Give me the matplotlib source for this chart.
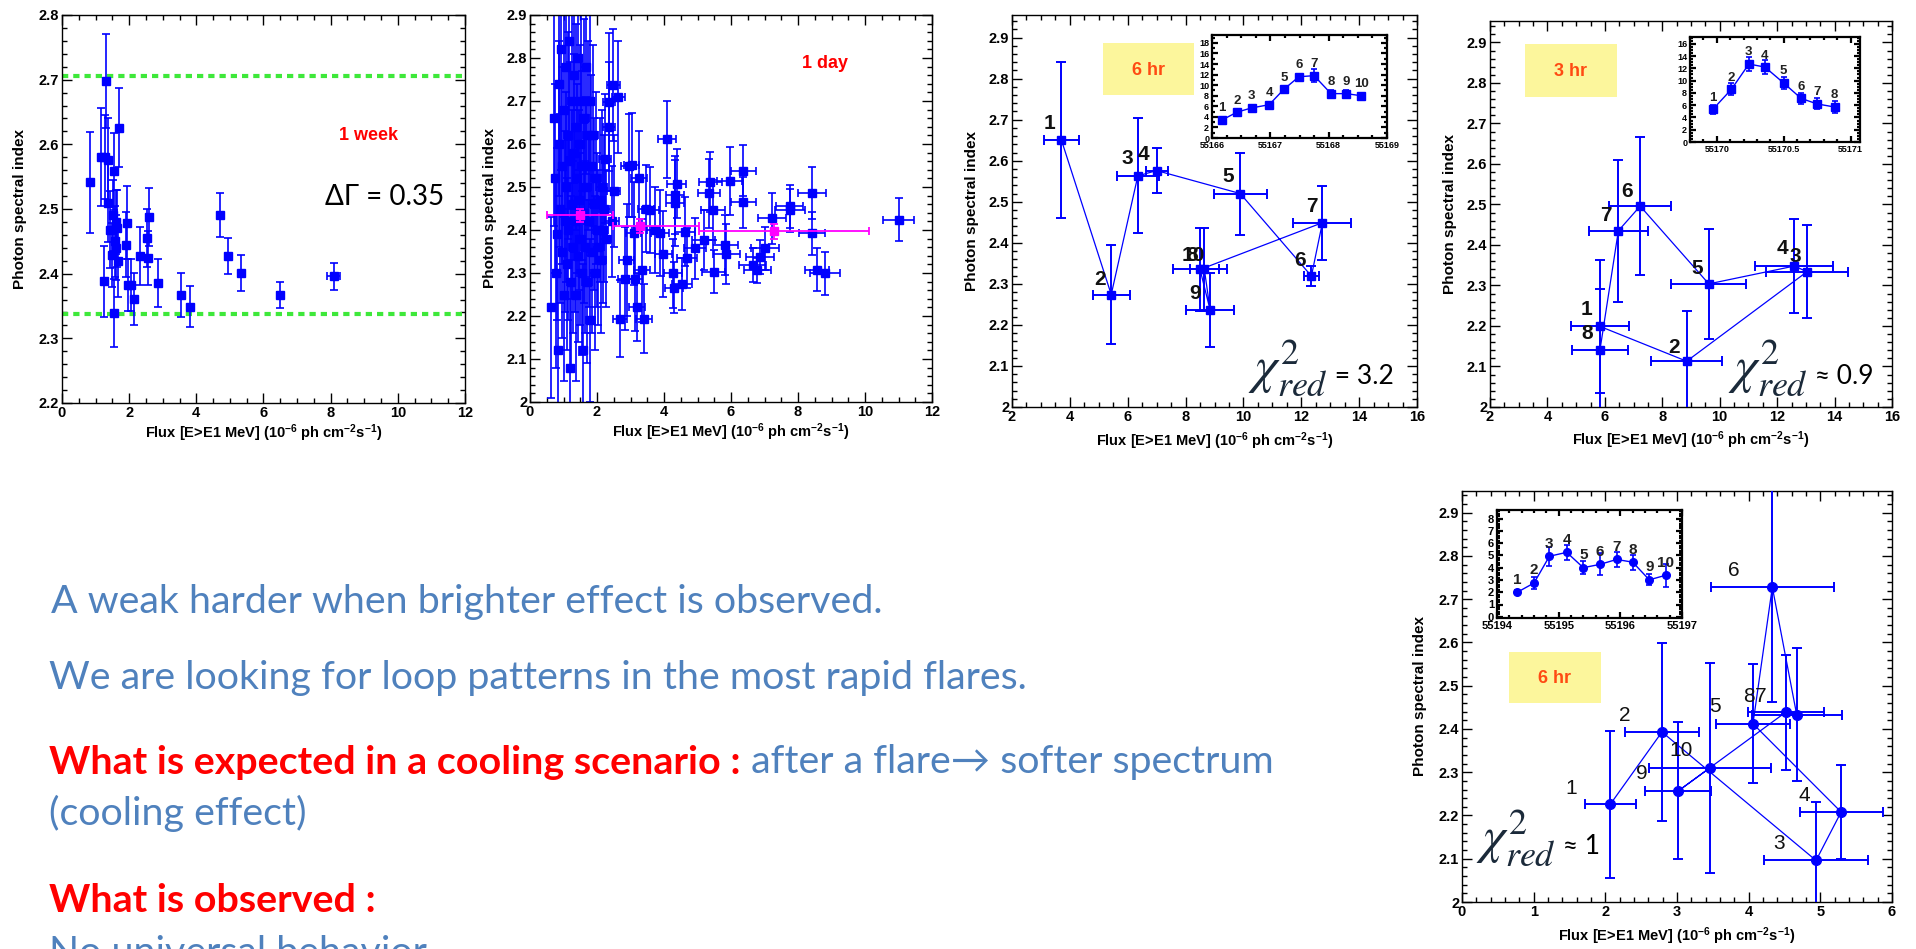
import numpy as np
import matplotlib
matplotlib.use('Agg')
import matplotlib.pyplot as plt
from matplotlib.ticker import MultipleLocator, FuncFormatter
from matplotlib.patches import Rectangle

plt.rcParams['font.family'] = ['Liberation Sans', 'DejaVu Sans']
plt.rcParams['mathtext.fontset'] = 'custom'
plt.rcParams['mathtext.rm'] = 'Liberation Sans:bold'
plt.rcParams['mathtext.bf'] = 'Liberation Sans:bold'
plt.rcParams['mathtext.it'] = 'Liberation Sans:italic:bold'
plt.rcParams['mathtext.default'] = 'rm'

BLUE = '#0000ff'
PINK = '#ff00ff'
GREEN = '#3ee83a'
RED = '#ff0000'
TXT_BLUE = '#4f81bd'

# ---------------- 1 week binning ----------------
week_flux = [0.84, 1.16, 1.26, 1.32, 1.28, 1.36, 1.36, 1.44, 1.49, 1.54,
             1.56, 1.52, 1.58, 1.60, 1.62, 1.67, 1.70, 1.65, 1.90, 1.93,
             1.98, 2.05, 2.13, 2.33, 2.53, 2.56, 2.59, 2.85, 3.53, 3.80,
             4.71, 4.93, 5.33, 6.48, 8.09]
week_index = [2.541, 2.580, 2.388, 2.698, 2.580, 2.576, 2.509, 2.468, 2.429, 2.339,
              2.558, 2.490, 2.450, 2.480, 2.440, 2.419, 2.626, 2.470, 2.445, 2.479,
              2.383, 2.383, 2.361, 2.427, 2.455, 2.424, 2.488, 2.385, 2.367, 2.349,
              2.491, 2.427, 2.401, 2.367, 2.396]
week_flux_err = [0.05, 0.05, 0.05, 0.05, 0.05, 0.05, 0.05, 0.05, 0.05, 0.05,
                 0.05, 0.05, 0.05, 0.05, 0.05, 0.05, 0.05, 0.05, 0.05, 0.05,
                 0.05, 0.05, 0.05, 0.06, 0.06, 0.06, 0.06, 0.06, 0.06, 0.06,
                 0.07, 0.07, 0.07, 0.07, 0.20]
week_index_err = [0.078, 0.076, 0.055, 0.072, 0.065, 0.065, 0.060, 0.060, 0.050, 0.053,
                  0.060, 0.055, 0.055, 0.050, 0.050, 0.055, 0.061, 0.060, 0.050, 0.057,
                  0.040, 0.040, 0.040, 0.045, 0.045, 0.042, 0.045, 0.037, 0.034, 0.032,
                  0.034, 0.028, 0.028, 0.020, 0.021]
week_band = [2.338, 2.706]

# ---------------- 1 day binning ----------------
day_flux_low = [0.62, 0.72, 0.75, 0.78, 0.82, 0.85, 0.86, 0.88, 0.90, 0.92,
                0.95, 0.97, 1.00, 1.02, 1.04, 1.06, 1.08, 1.10, 1.12, 1.14,
                1.16, 1.18, 1.20, 1.22, 1.24, 1.26, 1.28, 1.30, 1.32, 1.34,
                1.36, 1.38, 1.40, 1.42, 1.44, 1.46, 1.48, 1.50, 1.52, 1.54,
                1.56, 1.58, 1.60, 1.62, 1.64, 1.66, 1.68, 1.70, 1.72, 1.75,
                1.78, 1.80, 1.82, 1.85, 1.88, 1.90, 1.94, 1.97, 2.00, 2.04,
                2.08, 2.12, 2.14, 2.18, 2.22, 2.26]
day_index_low = [2.22, 2.66, 2.52, 2.30, 2.39, 2.12, 2.74, 2.60, 2.45, 2.82,
                 2.35, 2.55, 2.68, 2.25, 2.42, 2.78, 2.50, 2.32, 2.62, 2.40,
                 2.84, 2.56, 2.08, 2.28, 2.70, 2.46, 2.36, 2.58, 2.76, 2.42,
                 2.25, 2.64, 2.52, 2.34, 2.80, 2.47, 2.60, 2.38, 2.70, 2.30,
                 2.55, 2.12, 2.44, 2.66, 2.36, 2.78, 2.50, 2.28, 2.62, 2.42,
                 2.70, 2.19, 2.55, 2.35, 2.62, 2.46, 2.30, 2.52, 2.40, 2.36,
                 2.47, 2.33, 2.50, 2.40, 2.45, 2.38]
day_flux_err_low = [0.05, 0.06, 0.06, 0.07, 0.07, 0.07, 0.08, 0.08, 0.08, 0.08,
                    0.08, 0.09, 0.09, 0.09, 0.09, 0.10, 0.10, 0.10, 0.10, 0.10,
                    0.10, 0.10, 0.10, 0.11, 0.11, 0.11, 0.11, 0.11, 0.11, 0.12,
                    0.12, 0.12, 0.12, 0.12, 0.12, 0.12, 0.12, 0.13, 0.13, 0.13,
                    0.13, 0.13, 0.13, 0.13, 0.13, 0.14, 0.14, 0.14, 0.14, 0.14,
                    0.14, 0.14, 0.14, 0.15, 0.15, 0.15, 0.15, 0.15, 0.15, 0.16,
                    0.16, 0.16, 0.16, 0.16, 0.17, 0.17]
day_index_err_low = [0.21, 0.25, 0.22, 0.22, 0.20, 0.18, 0.26, 0.24, 0.22, 0.28,
                     0.20, 0.23, 0.25, 0.20, 0.21, 0.27, 0.22, 0.20, 0.24, 0.21,
                     0.27, 0.23, 0.20, 0.20, 0.25, 0.22, 0.20, 0.23, 0.25, 0.21,
                     0.20, 0.24, 0.22, 0.20, 0.26, 0.21, 0.23, 0.20, 0.24, 0.19,
                     0.22, 0.20, 0.21, 0.23, 0.20, 0.25, 0.21, 0.19, 0.22, 0.20,
                     0.23, 0.19, 0.21, 0.19, 0.21, 0.20, 0.18, 0.20, 0.18, 0.18,
                     0.19, 0.17, 0.18, 0.17, 0.17, 0.16]

day_flux_high = [2.24, 2.37, 2.37, 2.49, 2.64, 2.50, 2.45, 2.69, 2.84, 2.89,
                 2.95, 3.04, 3.09, 3.14, 3.19, 3.25, 3.34, 3.39, 3.45, 3.59,
                 3.73, 3.88, 3.98, 4.08, 4.28, 4.30, 4.33, 4.33, 4.38, 4.53,
                 4.63, 4.68, 4.93, 5.18, 5.33, 5.38, 5.46, 5.48, 5.83, 5.86,
                 5.96, 6.37, 6.37, 6.65, 6.79, 6.87, 7.02, 7.22, 7.75, 7.75,
                 8.42, 8.42, 8.57, 8.81, 11.0]
day_index_high = [2.566, 2.698, 2.640, 2.737, 2.710, 2.490, 2.420, 2.194, 2.287, 2.330,
                  2.550, 2.551, 2.392, 2.285, 2.221, 2.520, 2.306, 2.194, 2.450, 2.446,
                  2.400, 2.392, 2.345, 2.611, 2.299, 2.266, 2.462, 2.481, 2.508, 2.275,
                  2.396, 2.334, 2.357, 2.376, 2.485, 2.512, 2.446, 2.303, 2.365, 2.345,
                  2.514, 2.464, 2.538, 2.318, 2.306, 2.337, 2.357, 2.427, 2.446, 2.455,
                  2.486, 2.393, 2.308, 2.300, 2.424]
day_flux_err_high = [0.17, 0.18, 0.18, 0.20, 0.20, 0.20, 0.20, 0.20, 0.22, 0.22,
                     0.22, 0.22, 0.22, 0.23, 0.23, 0.23, 0.24, 0.24, 0.24, 0.25,
                     0.25, 0.26, 0.26, 0.27, 0.27, 0.27, 0.28, 0.28, 0.28, 0.30,
                     0.30, 0.30, 0.32, 0.33, 0.33, 0.35, 0.35, 0.35, 0.38, 0.40,
                     0.38, 0.38, 0.38, 0.40, 0.40, 0.42, 0.42, 0.42, 0.45, 0.40,
                     0.43, 0.40, 0.35, 0.45, 0.47]
day_index_err_high = [0.15, 0.16, 0.15, 0.13, 0.13, 0.13, 0.13, 0.09, 0.12, 0.13,
                      0.12, 0.12, 0.12, 0.12, 0.08, 0.11, 0.12, 0.08, 0.10, 0.10,
                      0.10, 0.10, 0.10, 0.09, 0.08, 0.06, 0.10, 0.09, 0.08, 0.06,
                      0.08, 0.07, 0.07, 0.07, 0.08, 0.07, 0.07, 0.05, 0.07, 0.07,
                      0.08, 0.06, 0.06, 0.04, 0.03, 0.04, 0.05, 0.06, 0.05, 0.05,
                      0.06, 0.05, 0.05, 0.05, 0.05]

# flux-binned averages of the daily points
avg_flux = [1.49, 3.29, 7.27]
avg_index = [2.434, 2.410, 2.397]
avg_flux_lo = [0.99, 0.80, 2.24]
avg_flux_hi = [1.00, 1.74, 2.84]
avg_index_err = [0.016, 0.016, 0.018]

# ---------------- flare A, 6 hr bins ----------------
fa_flux = [3.71, 5.43, 6.35, 7.00, 9.89, 12.35, 12.73, 8.50, 8.85, 8.65]
fa_index = [2.650, 2.274, 2.563, 2.576, 2.520, 2.319, 2.449, 2.335, 2.236, 2.335]
fa_flux_err = [0.60, 0.64, 0.73, 0.38, 0.91, 0.27, 1.00, 0.92, 0.84, 0.50]
fa_index_err = [0.19, 0.12, 0.14, 0.055, 0.10, 0.025, 0.09, 0.10, 0.09, 0.10]
fa_mjd = [55166.17, 55166.43, 55166.68, 55166.98, 55167.23, 55167.49, 55167.75,
          55168.04, 55168.30, 55168.56]
fa_lc = [3.4, 4.9, 5.7, 6.3, 9.2, 11.6, 11.8, 8.4, 8.4, 8.0]
fa_lc_err = [0.5, 0.5, 0.5, 0.5, 0.6, 0.6, 1.2, 0.6, 0.6, 0.6]

# ---------------- flare B, 3 hr bins ----------------
fb_flux = [5.83, 8.85, 13.04, 12.60, 9.62, 7.23, 6.47, 5.83]
fb_index = [2.199, 2.113, 2.334, 2.348, 2.304, 2.496, 2.435, 2.141]
fb_flux_err = [1.00, 1.23, 1.42, 1.36, 1.30, 1.07, 1.02, 0.96]
fb_index_err = [0.165, 0.125, 0.115, 0.115, 0.135, 0.170, 0.175, 0.150]
fb_mjd = [55169.97, 55170.11, 55170.24, 55170.36, 55170.50, 55170.63, 55170.75, 55170.88]
fb_lc = [5.3, 8.6, 12.7, 12.2, 9.6, 7.1, 6.2, 5.7]
fb_lc_err = [0.8, 1.0, 1.2, 1.2, 1.0, 0.9, 0.9, 0.9]

# ---------------- flare C, 6 hr bins ----------------
fc_flux = [2.07, 2.79, 4.94, 5.29, 4.06, 4.33, 4.67, 4.52, 3.02, 3.46]
fc_index = [2.226, 2.393, 2.096, 2.208, 2.412, 2.728, 2.433, 2.439, 2.257, 2.310]
fc_flux_err = [0.36, 0.52, 0.73, 0.58, 0.51, 0.86, 0.63, 0.53, 0.46, 0.85]
fc_index_err = [0.17, 0.205, 0.135, 0.108, 0.137, 0.265, 0.153, 0.133, 0.158, 0.243]
fc_mjd = [55194.33, 55194.60, 55194.85, 55195.13, 55195.40, 55195.67, 55195.94,
          55196.20, 55196.47, 55196.74]
fc_lc = [2.0, 2.75, 4.93, 5.25, 4.0, 4.27, 4.67, 4.45, 3.01, 3.39]
fc_lc_err = [0.15, 0.5, 0.77, 0.6, 0.53, 0.9, 0.63, 0.6, 0.44, 0.93]

# where the bin numbers are written next to each loop point
fa_tag_xy = [(3.30, 2.690), (5.03, 2.310), (5.97, 2.606), (6.55, 2.616), (9.47, 2.561),
             (11.97, 2.358), (12.35, 2.488), (8.22, 2.370), (8.34, 2.276), (8.28, 2.370)]
fb_tag_xy = [(5.37, 2.240), (8.41, 2.148), (12.63, 2.371), (12.17, 2.392), (9.23, 2.343),
             (6.76, 2.532), (6.02, 2.474), (5.37, 2.182)]
fc_tag_xy = [(1.53, 2.262), (2.27, 2.431), (4.43, 2.135), (4.78, 2.247), (3.53, 2.451),
             (3.79, 2.767), (4.17, 2.474), (4.01, 2.474), (2.51, 2.297), (3.05, 2.351)]

FLUX_LABEL = r'Flux [E>E1 MeV] (10$^{-6}$ ph cm$^{-2}$s$^{-1}$)'
W, H = 1916, 949


def px_axes(fig, left, top, right, bottom):
    return fig.add_axes([left / W, 1 - bottom / H, (right - left) / W, (bottom - top) / H])


def root_style(ax, xmaj, xmin, ymaj, ymin, size=10.5, major=7, minor=3.5, lw=1.0):
    ax.xaxis.set_major_locator(MultipleLocator(xmaj))
    ax.xaxis.set_minor_locator(MultipleLocator(xmin))
    ax.yaxis.set_major_locator(MultipleLocator(ymaj))
    ax.yaxis.set_minor_locator(MultipleLocator(ymin))
    fmt = FuncFormatter(lambda v, p: f'{v:g}')
    ax.xaxis.set_major_formatter(fmt)
    ax.yaxis.set_major_formatter(fmt)
    ax.tick_params(which='both', direction='in', top=True, right=True, width=lw)
    ax.tick_params(which='major', length=major, labelsize=size, pad=2)
    ax.tick_params(which='minor', length=minor)
    for lab in ax.get_xticklabels() + ax.get_yticklabels():
        lab.set_fontweight('bold')
    for s in ax.spines.values():
        s.set_linewidth(lw)


def axis_titles(ax, ylab_x, xlab_y):
    ax.set_ylabel('Photon spectral index', fontsize=11, fontweight='bold')
    ax.yaxis.set_label_coords(ylab_x, 0.5)
    ax.set_xlabel(FLUX_LABEL, fontsize=10.5, fontweight='bold')
    ax.xaxis.set_label_coords(0.5, xlab_y)


def light_curve(ax, t, f, ferr, marker, xlim, ylim, xmaj, xmin, ymaj, ymin,
                tag_size, tick_size):
    ax.errorbar(t, f, yerr=ferr, fmt=marker + '-', color=BLUE, ms=5.5, lw=1.0,
                elinewidth=1.2, capsize=2.5, capthick=1.2)
    for i, (ti, fi) in enumerate(zip(t, f)):
        ax.annotate(str(i + 1), (ti, fi), xytext=(0, 4), textcoords='offset points',
                    ha='center', va='bottom', fontsize=tag_size, fontweight='bold',
                    color='#222222')
    ax.set_xlim(*xlim)
    ax.set_ylim(*ylim)
    root_style(ax, xmaj, xmin, ymaj, ymin, size=tick_size, major=4, minor=2, lw=1.6)


def loop_panel(ax, flux, index, ferr, ierr, tags, marker, ms, tag_weight):
    ax.plot(flux, index, '-', color=BLUE, lw=0.9, zorder=2)
    ax.errorbar(flux, index, xerr=ferr, yerr=ierr, fmt=marker, color=BLUE, ms=ms,
                elinewidth=1.4, capsize=3.5, capthick=1.4, zorder=3)
    for i, (tx, ty) in enumerate(tags):
        ax.text(tx, ty, str(i + 1), ha='center', va='center', fontsize=15,
                fontweight=tag_weight, color='#111111')


def chi_label(ov, x, y, value):
    chi = ov.text(x, y, r'$\mathit{\chi}^{2}_{\mathit{red}}$', math_fontfamily='stix',
                  fontsize=37, color='#1b2a3a', ha='left', va='center')
    ov.annotate(value, xy=(1.0, 0.36), xycoords=chi, ha='left', va='center',
                fontsize=19, family=['Lato', 'DejaVu Sans'], color='black')


def main():
    fig = plt.figure(figsize=(W / 100, H / 100), dpi=100)

    # 1 week
    ax1 = px_axes(fig, 62, 15, 465, 403)
    ax1.axhline(week_band[0], color=GREEN, lw=3, dashes=(1.5, 1.2))
    ax1.axhline(week_band[1], color=GREEN, lw=3, dashes=(1.5, 1.2))
    ax1.errorbar(week_flux, week_index, xerr=week_flux_err, yerr=week_index_err, fmt='s',
                 color=BLUE, ms=6, elinewidth=1.2, capsize=3, capthick=1.2)
    ax1.set_xlim(0, 12)
    ax1.set_ylim(2.2, 2.8)
    root_style(ax1, 2, 0.5, 0.1, 0.02)
    axis_titles(ax1, -0.087, -0.049)
    ax1.text(0.76, 0.69, '1 week', transform=ax1.transAxes, color=RED, fontsize=13,
             fontweight='bold', ha='center', va='center')
    ax1.text(0.80, 0.53, '\u0394\u0393 = 0.35', transform=ax1.transAxes, color='black',
             fontsize=20, family=['Lato', 'DejaVu Sans'], ha='center', va='center')

    # 1 day
    ax2 = px_axes(fig, 530, 15, 932, 402)
    ax2.errorbar(day_flux_low, day_index_low, xerr=day_flux_err_low, yerr=day_index_err_low,
                 fmt='s', color=BLUE, ms=6, elinewidth=1.2, capsize=3, capthick=1.2)
    ax2.errorbar(day_flux_high, day_index_high, xerr=day_flux_err_high, yerr=day_index_err_high,
                 fmt='s', color=BLUE, ms=6, elinewidth=1.2, capsize=3, capthick=1.2)
    ax2.errorbar(avg_flux, avg_index, xerr=[avg_flux_lo, avg_flux_hi], yerr=avg_index_err,
                 fmt='s', color=PINK, ms=6, elinewidth=1.3, capsize=3, capthick=1.3, zorder=5)
    ax2.set_xlim(0, 12)
    ax2.set_ylim(2.0, 2.9)
    root_style(ax2, 2, 0.5, 0.1, 0.02)
    axis_titles(ax2, -0.082, -0.049)
    ax2.text(0.735, 0.875, '1 day', transform=ax2.transAxes, color=RED, fontsize=13,
             fontweight='bold', ha='center', va='center')

    # flare A
    ax3 = px_axes(fig, 1012, 15, 1417, 407)
    loop_panel(ax3, fa_flux, fa_index, fa_flux_err, fa_index_err, fa_tag_xy, 's', 6, 'bold')
    ax3.set_xlim(2, 16)
    ax3.set_ylim(2.0, 2.955)
    root_style(ax3, 2, 0.5, 0.1, 0.02)
    axis_titles(ax3, -0.082, -0.059)

    # flare B
    ax4 = px_axes(fig, 1490, 21, 1892, 407)
    loop_panel(ax4, fb_flux, fb_index, fb_flux_err, fb_index_err, fb_tag_xy, 's', 6, 'bold')
    ax4.set_xlim(2, 16)
    ax4.set_ylim(2.0, 2.953)
    root_style(ax4, 2, 0.5, 0.1, 0.02)
    axis_titles(ax4, -0.082, -0.059)

    # flare C
    ax5 = px_axes(fig, 1462, 491, 1892, 902)
    loop_panel(ax5, fc_flux, fc_index, fc_flux_err, fc_index_err, fc_tag_xy, 'o', 7, 'normal')
    ax5.set_xlim(0, 6)
    ax5.set_ylim(2.0, 2.95)
    root_style(ax5, 1, 0.2, 0.1, 0.02)
    axis_titles(ax5, -0.081, -0.058)

    # light curves of the three flares
    in3 = px_axes(fig, 1212, 35, 1387, 138)
    light_curve(in3, fa_mjd, fa_lc, fa_lc_err, 's', (55166, 55169), (0, 19.5),
                1, 0.25, 2, 1, 9.5, 6.5)
    in4 = px_axes(fig, 1690, 37, 1860, 142)
    light_curve(in4, fb_mjd, fb_lc, fb_lc_err, 's', (55169.8, 55171.07), (0, 17.1),
                0.5, 0.1, 2, 0.5, 9.5, 6.5)
    in5 = px_axes(fig, 1497, 510, 1682, 618)
    light_curve(in5, fc_mjd, fc_lc, fc_lc_err, 'o', (55194, 55197), (-0.1, 8.7),
                1, 0.2, 1, 0.2, 11, 8)

    # overlay in pixel units for slide text and boxes
    ov = fig.add_axes([0, 0, 1, 1], facecolor='none')
    ov.set_xlim(0, W)
    ov.set_ylim(H, 0)
    ov.axis('off')

    for (x0, y0, x1, y1, label) in [(1103, 43, 1194, 95, '6 hr'),
                                    (1525, 44, 1617, 97, '3 hr'),
                                    (1509, 652, 1601, 703, '6 hr')]:
        ov.add_patch(Rectangle((x0, y0), x1 - x0, y1 - y0, facecolor='#fcf69c',
                               edgecolor='none', zorder=1))
        ov.text((x0 + x1) / 2, (y0 + y1) / 2 + 1, label, color='#ff4a12', fontsize=13,
                fontweight='bold', ha='center', va='center', zorder=2)

    chi_label(ov, 1248, 368, ' = 3.2')
    chi_label(ov, 1728, 368, ' \u2248 0.9')
    chi_label(ov, 1476, 838, ' \u2248 1')

    body = ['Lato', 'DejaVu Sans']
    t1 = ov.text(51, 613, 'A weak harder when brighter effect is observed.', color=TXT_BLUE,
                 family=body, fontsize=24, va='baseline')
    t2 = ov.text(49, 689, 'We are looking for loop patterns in the most rapid flares.',
                 color=TXT_BLUE, family=body, fontsize=24, va='baseline')
    t3 = ov.text(49, 774, 'What is expected in a cooling scenario :', color=RED,
                 family=body, fontsize=24, fontweight='bold', va='baseline')
    t4 = ov.text(49, 825, '(cooling effect)', color=TXT_BLUE, family=body, fontsize=24,
                 va='baseline')
    t5 = ov.text(49, 912, 'What is observed :', color=RED, family=body, fontsize=24,
                 fontweight='bold', va='baseline')
    t6 = ov.text(49, 964, 'No universal behavior', color=TXT_BLUE, family=body, fontsize=24,
                 va='baseline', clip_on=False)
    lines = [t1, t2, t3, t4, t5, t6]

    # size the body text so the second line spans its slot on the slide
    renderer = fig.canvas.get_renderer()
    width = t2.get_window_extent(renderer).width
    size = 24 * (1029 - 49) / width
    for t in lines:
        t.set_fontsize(size)
    ov.annotate(' after a flare\u2192 softer spectrum', xy=(1, 0), xycoords=t3,
                ha='left', va='bottom', color=TXT_BLUE, family=body, fontsize=size)

    fig.savefig('out.png', dpi=100)


if __name__ == '__main__':
    main()
